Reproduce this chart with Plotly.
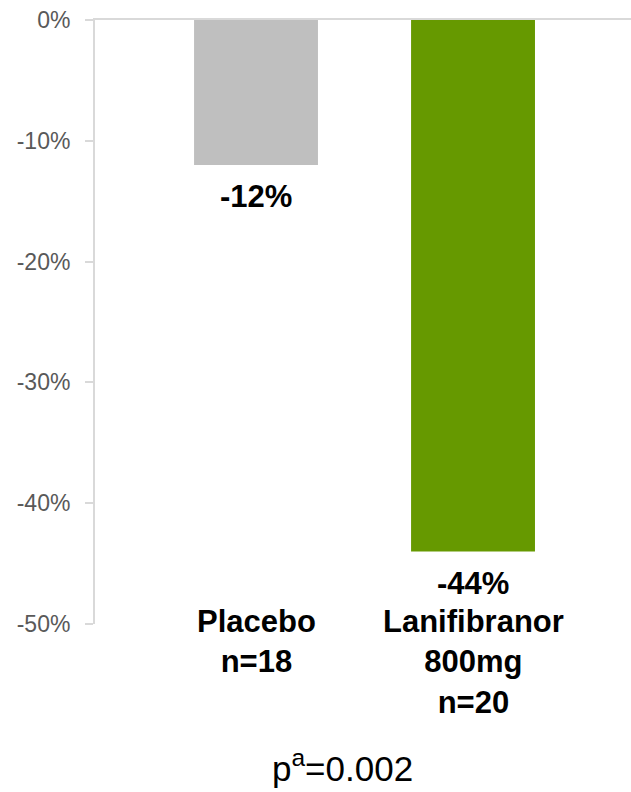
import plotly.graph_objects as go

categories = ["Placebo", "Lanifibranor 800mg"]
cat_labels = ["Placebo<br>n=18", "Lanifibranor<br>800mg<br>n=20"]
values = [-0.12, -0.44]
value_labels = ["-12%", "-44%"]
bar_colors = ["#BFBFBF", "#669900"]
tick_vals = [0, -0.1, -0.2, -0.3, -0.4, -0.5]
tick_text = ["0%", "-10%", "-20%", "-30%", "-40%", "-50%"]
p_text = "p<sup>a</sup>=0.002"

FONT = "Liberation Sans, Arial, sans-serif"

fig = go.Figure()
fig.add_trace(go.Bar(
    x=categories, y=values, marker=dict(color=bar_colors, line=dict(width=0)),
    width=0.571, hoverinfo="skip"
))

ymin = min(tick_vals)
for c, v, lab, cl in zip(categories, values, value_labels, cat_labels):
    fig.add_annotation(x=c, y=v, xref="x", yref="y", text="<b>%s</b>" % lab,
                       showarrow=False, yanchor="top", yshift=-12,
                       font=dict(family=FONT, size=31, color="#000000"))
    fig.add_annotation(x=c, y=ymin, xref="x", yref="y", text="<b>%s</b>" % cl,
                       showarrow=False, yanchor="top", yshift=22,
                       font=dict(family=FONT, size=31, color="#000000"))

fig.add_annotation(x=0.461, y=-0.235, xref="paper", yref="paper", text=p_text,
                   showarrow=False, yanchor="middle",
                   font=dict(family=FONT, size=35, color="#000000"))

fig.update_layout(
    width=631, height=792,
    margin=dict(l=95, r=0, t=20, b=168),
    paper_bgcolor="white", plot_bgcolor="white",
    showlegend=False,
    xaxis=dict(range=[-0.742, 1.728], side="top", showline=True, linecolor="#D9D9D9",
               linewidth=2, showticklabels=False, ticks="", showgrid=False, zeroline=False),
    yaxis=dict(range=[-0.5, 0], tickvals=tick_vals, ticktext=tick_text,
               showline=True, linecolor="#D9D9D9", linewidth=2, ticks="outside",
               ticklen=8, tickcolor="#D9D9D9", tickwidth=2, showgrid=False, zeroline=False,
               ticklabelstandoff=10,
               tickfont=dict(family=FONT, size=23, color="#595959")),
)

fig.write_html("out.html", config={"displayModeBar": False},
               post_script="document.body.style.margin='0';")
